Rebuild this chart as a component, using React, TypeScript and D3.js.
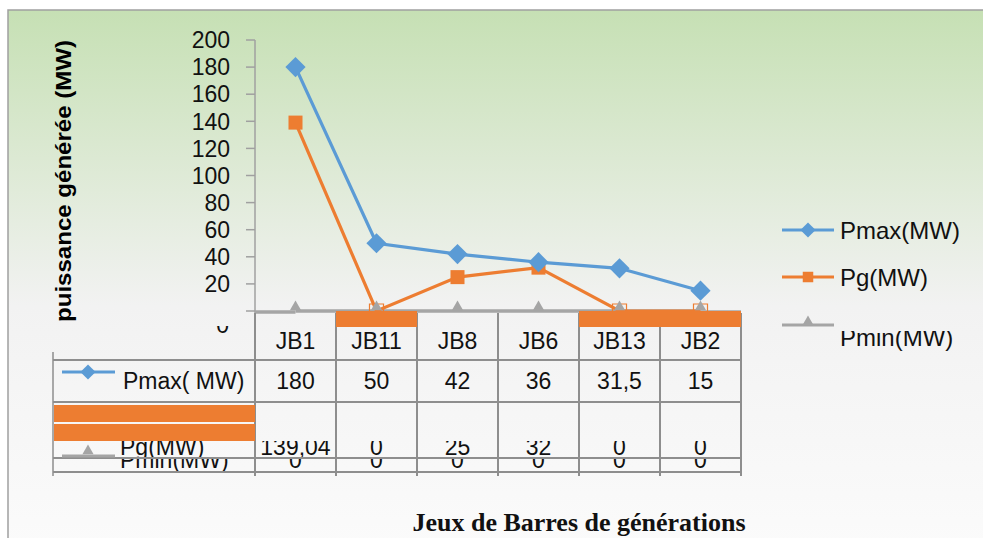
import * as d3 from "d3";

const categories = ["JB1", "JB11", "JB8", "JB6", "JB13", "JB2"];
const pmax = [180, 50, 42, 36, 31.5, 15];
const pg = [139.04, 0, 25, 32, 0, 0];
const pmin = [0, 0, 0, 0, 0, 0];
const yTicks = [0, 20, 40, 60, 80, 100, 120, 140, 160, 180, 200];
const seriesNames = ["Pmax(MW)", "Pg(MW)", "Pmin(MW)"];
const tableNames = ["Pmax( MW)", "Pg(MW)", "Pmin(MW)"];

const W = 983;
const H = 538;
const BLUE = "#5b9bd5";
const ORANGE = "#ed7d31";
const GRAY = "#a5a5a5";
const GRID = "#8e8e8e";
const FONT = "'Liberation Sans', Arial, sans-serif";

const fmt = (v: number) => String(v).replace(".", ",");

const App = () => {
  const x = d3.scaleBand<string>().domain(categories).range([255, 741]);
  const y = d3.scaleLinear().domain([0, 200]).range([311, 40]);
  const cx = (c: string) => (x(c) as number) + x.bandwidth() / 2;

  const line = d3
    .line<number>()
    .x((_, i) => cx(categories[i]))
    .y((d) => y(d));

  const diamond = d3.symbol(d3.symbolDiamond2, 260)();
  const square = d3.symbol(d3.symbolSquare2, 250)();
  const triangle = d3.symbol(d3.symbolTriangle2, 90)();

  // table rows (top, bottom)
  const rowTop = [313, 360, 402, 458];
  const rowBottom = 472;
  const colEdges = categories.map((c) => x(c) as number).concat([741]);

  const legendX = 782;
  const legendY = [230, 277, 325];

  return (
    <svg width={W} height={H} style={{ position: "absolute", left: 0, top: 0 }}>
      <defs>
        <linearGradient id="bg" x1="0" y1="0" x2="0" y2="1">
          <stop offset="0" stopColor="#c6e0b4" />
          <stop offset="0.55" stopColor="#f2f2f2" />
          <stop offset="1" stopColor="#fbfbfb" />
        </linearGradient>
        <clipPath id="clipZero">
          <rect x={200} y={326} width={40} height={10} />
        </clipPath>
        <clipPath id="clipPg">
          <rect x={0} y={441} width={760} height={16} />
        </clipPath>
        <clipPath id="clipPmin">
          <rect x={0} y={459} width={760} height={12} />
        </clipPath>
        <clipPath id="clipLegPmin">
          <rect x={835} y={331} width={148} height={40} />
        </clipPath>
      </defs>

      <rect x={0} y={0} width={W} height={H} fill="#ffffff" />
      <rect x={8} y={10} width={W} height={H} fill="url(#bg)" stroke="#a0a0a0" strokeWidth={1.5} />

      {/* y axis title */}
      <text
        transform={`translate(71,181) rotate(-90)`}
        textAnchor="middle"
        fontFamily={FONT}
        fontWeight="bold"
        fontSize={22}
        textLength={282}
        lengthAdjust="spacingAndGlyphs"
      >
        puissance générée (MW)
      </text>

      {/* y axis */}
      <line x1={255} x2={255} y1={y(200)} y2={313} stroke="#a0a0a0" strokeWidth={1.5} />
      {yTicks.map((t) => (
        <g key={t}>
          <line x1={246} x2={255} y1={y(t)} y2={y(t)} stroke="#a0a0a0" strokeWidth={1.5} />
          {t > 0 ? (
            <text
              x={230}
              y={y(t)}
              dy="0.36em"
              textAnchor="end"
              fontFamily={FONT}
              fontSize={23}
              fill="#111"
            >
              {t}
            </text>
          ) : (
            <text
              x={229}
              y={333}
              textAnchor="end"
              fontFamily={FONT}
              fontSize={23}
              fill="#111"
              clipPath="url(#clipZero)"
            >
              0
            </text>
          )}
        </g>
      ))}

      {/* Pmin line (sits on the category axis) */}
      <path d={line(pmin) as string} fill="none" stroke={GRAY} strokeWidth={3.5} />
      <line x1={255} x2={cx(categories[0])} y1={312} y2={312} stroke={GRAY} strokeWidth={3.5} />
      <line x1={cx(categories[5])} x2={741} y1={312} y2={312} stroke={GRAY} strokeWidth={3.5} />

      {/* Pg line */}
      <path d={line(pg) as string} fill="none" stroke={ORANGE} strokeWidth={3.2} />
      {/* Pmax line */}
      <path d={line(pmax) as string} fill="none" stroke={BLUE} strokeWidth={3.2} />

      {pg.map((v, i) => (
        <path
          key={"pg" + i}
          d={square as string}
          transform={`translate(${cx(categories[i])},${y(v)})`}
          fill={v === 0 ? "none" : ORANGE}
          stroke={ORANGE}
          strokeWidth={v === 0 ? 1.2 : 0}
        />
      ))}
      {pmax.map((v, i) => (
        <path
          key={"pm" + i}
          d={diamond as string}
          transform={`translate(${cx(categories[i])},${y(v)})`}
          fill={BLUE}
        />
      ))}
      {pmin.map((v, i) => (
        <path
          key={"pn" + i}
          d={triangle as string}
          transform={`translate(${cx(categories[i])},${y(v) - 4})`}
          fill={GRAY}
        />
      ))}

      {/* data table grid */}
      {rowTop.slice(1).map((ry) => (
        <line key={ry} x1={53} x2={741} y1={ry} y2={ry} stroke={GRID} strokeWidth={2} />
      ))}
      <line x1={53} x2={741} y1={rowBottom} y2={rowBottom} stroke={GRID} strokeWidth={2} />
      <line x1={53} x2={53} y1={352} y2={476} stroke={GRID} strokeWidth={1.5} />
      {colEdges.map((ex, i) => (
        <line key={i} x1={ex} x2={ex} y1={313} y2={476} stroke={GRID} strokeWidth={2} />
      ))}

      {/* header labels */}
      {categories.map((c) => (
        <text key={c} x={cx(c)} y={349} textAnchor="middle" fontFamily={FONT} fontSize={23} fill="#111">
          {c}
        </text>
      ))}

      {/* Pmax row */}
      <line x1={62} x2={115} y1={372} y2={372} stroke={BLUE} strokeWidth={3} />
      <path d={diamond as string} transform="translate(88,372) scale(0.75)" fill={BLUE} />
      <text x={123} y={389} fontFamily={FONT} fontSize={23} fill="#111">
        {tableNames[0]}
      </text>
      {pmax.map((v, i) => (
        <text key={"tv" + i} x={cx(categories[i])} y={389} textAnchor="middle" fontFamily={FONT} fontSize={23} fill="#111">
          {fmt(v)}
        </text>
      ))}

      {/* Pg row (clipped) */}
      <g clipPath="url(#clipPg)">
        <text x={120} y={455} fontFamily={FONT} fontSize={23} fill="#111">
          {tableNames[1]}
        </text>
        {pg.map((v, i) => (
          <text key={"tg" + i} x={cx(categories[i])} y={455} textAnchor="middle" fontFamily={FONT} fontSize={23} fill="#111">
            {fmt(v)}
          </text>
        ))}
      </g>

      {/* Pmin row (clipped) */}
      <g clipPath="url(#clipPmin)">
        <text x={120} y={468} fontFamily={FONT} fontSize={23} fill="#111">
          {tableNames[2]}
        </text>
        {pmin.map((v, i) => (
          <text key={"tn" + i} x={cx(categories[i])} y={468} textAnchor="middle" fontFamily={FONT} fontSize={23} fill="#111">
            {fmt(v)}
          </text>
        ))}
      </g>
      <line x1={62} x2={115} y1={456} y2={456} stroke={GRAY} strokeWidth={3} />
      <path d={triangle as string} transform="translate(88,451)" fill={GRAY} />

      {/* orange overlay bars */}
      <rect x={x("JB11")} y={311} width={x.bandwidth()} height={16} fill={ORANGE} />
      <rect x={x("JB13")} y={311} width={741 - (x("JB13") as number)} height={16} fill={ORANGE} />
      <rect x={54} y={405} width={201} height={17} fill={ORANGE} />
      <rect x={54} y={424} width={201} height={17} fill={ORANGE} />

      {/* legend */}
      <line x1={legendX} x2={legendX + 52} y1={legendY[0]} y2={legendY[0]} stroke={BLUE} strokeWidth={3} />
      <path d={diamond as string} transform={`translate(${legendX + 26},${legendY[0]}) scale(0.75)`} fill={BLUE} />
      <text x={840} y={legendY[0]} dy="0.36em" fontFamily={FONT} fontSize={24} fill="#111">
        {seriesNames[0]}
      </text>
      <line x1={legendX} x2={legendX + 52} y1={legendY[1]} y2={legendY[1]} stroke={ORANGE} strokeWidth={3} />
      <path d={square as string} transform={`translate(${legendX + 26},${legendY[1]}) scale(0.75)`} fill={ORANGE} />
      <text x={840} y={legendY[1]} dy="0.36em" fontFamily={FONT} fontSize={24} fill="#111">
        {seriesNames[1]}
      </text>
      <line x1={legendX} x2={legendX + 52} y1={legendY[2]} y2={legendY[2]} stroke={GRAY} strokeWidth={3} />
      <path d={triangle as string} transform={`translate(${legendX + 26},${legendY[2] - 3})`} fill={GRAY} />
      <text x={840} y={346} fontFamily={FONT} fontSize={24} fill="#111" clipPath="url(#clipLegPmin)">
        {seriesNames[2]}
      </text>

      {/* x axis title */}
      <text
        x={579}
        y={531}
        textAnchor="middle"
        fontFamily="'Liberation Serif', 'Times New Roman', serif"
        fontWeight="bold"
        fontSize={26}
        fill="#111"
      >
        Jeux de Barres de générations
      </text>
    </svg>
  );
};

export default App;
